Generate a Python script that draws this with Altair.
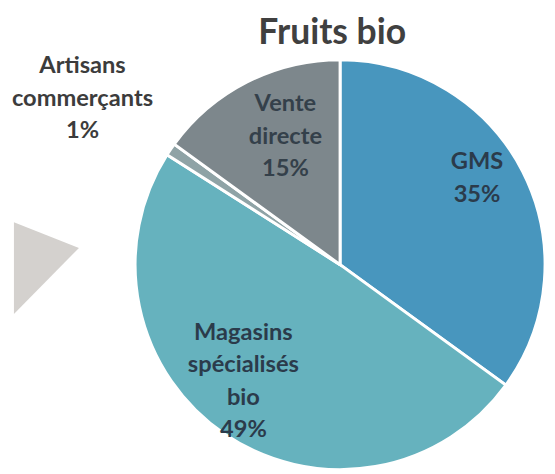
import math
import altair as alt
import pandas as pd

# ---- data ----
categories = ["GMS", "Magasins spécialisés bio", "Artisans commerçants", "Vente directe"]
label_lines = ["GMS", "Magasins\nspécialisés\nbio", "Artisans\ncommerçants", "Vente\ndirecte"]
shares = [35, 49, 1, 15]
colors = ["#4896be", "#66b2be", "#8fa3a6", "#7d878c"]
title_text = "Fruits bio"

df = pd.DataFrame({
    "idx": list(range(len(categories))),
    "categorie": categories,
    "lines": label_lines,
    "share": shares,
})
df["label"] = df["lines"] + "\n" + df["share"].astype(str) + "%"
total = float(sum(shares))

CX, CY, R = 337, 257, 208
theta_scale = alt.Scale(domain=[0, total], range=[0, 2 * math.pi])

arcs = alt.Chart(df).mark_arc(outerRadius=R, stroke="white", strokeWidth=3).encode(
    theta=alt.Theta("share:Q", stack=True, scale=theta_scale),
    order=alt.Order("idx:Q"),
    color=alt.Color("categorie:N", scale=alt.Scale(domain=categories, range=colors), legend=None),
    x=alt.value(CX),
    y=alt.value(CY),
)

label_base = alt.Chart(df).transform_window(
    cum="sum(share)", sort=[alt.SortField("idx")], frame=[None, 0]
).transform_calculate(mid="datum.cum - datum.share / 2")


def label_layer(cat, radius, dx, dy, color):
    return label_base.transform_filter(alt.datum.categorie == cat).mark_text(
        radius=radius, dx=dx, dy=dy, lineBreak="\n", lineHeight=33,
        font="Lato", fontWeight="bold", fontSize=24, align="center",
        baseline="middle", color=color,
    ).encode(
        theta=alt.Theta("mid:Q", stack=None, scale=theta_scale),
        text="label:N",
        x=alt.value(CX),
        y=alt.value(CY),
    )


labels = [
    label_layer("GMS", 156, 0, -33, "#2b3b4b"),
    label_layer("Magasins spécialisés bio", 155, -11, -59, "#2b3b4b"),
    label_layer("Vente directe", 142, 9, -36, "#34404a"),
    label_layer("Artisans commerçants", 310, -5, -27, "#3c3c3c"),
]

# decorative grey arrow tip at the left edge
arrow = alt.Chart(pd.DataFrame({"k": [0]})).mark_point(
    shape="M0,0 L1,0.394 L0,1.41 Z", size=17424, filled=True,
    color="#d4d1ce", opacity=1, strokeWidth=0,
).encode(x=alt.value(6), y=alt.value(214))

title = alt.Chart(pd.DataFrame({"t": [title_text]})).mark_text(
    font="Lato", fontWeight="bold", fontSize=36, color="#404040",
    align="center", baseline="middle",
).encode(text="t:N", x=alt.value(329), y=alt.value(22))

chart = alt.layer(arrow, arcs, *labels, title).properties(
    width=547, height=466, padding=0,
    autosize=alt.AutoSizeParams(type="none"),
).configure_view(stroke=None)

chart.save("out.html", embed_options={"renderer": "svg", "actions": False})
